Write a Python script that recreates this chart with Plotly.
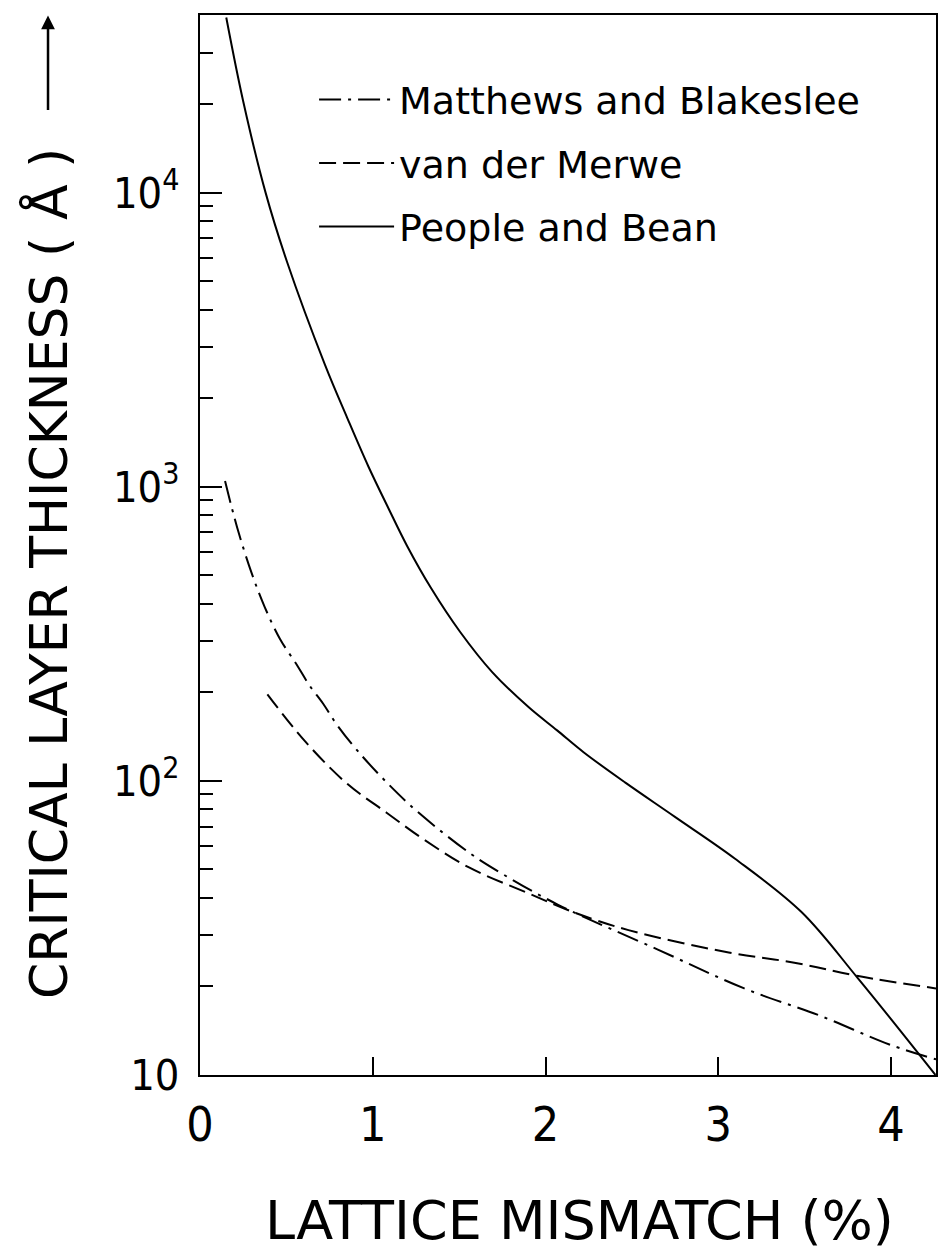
import plotly.graph_objects as go

# ---- data (lattice mismatch %, critical thickness Å) ----
mb_x = [0.145, 0.215, 0.297, 0.374, 0.463, 0.561, 0.632, 0.713, 0.79, 0.915, 1.09, 1.26, 1.56, 1.75, 2.07, 2.65, 3.15, 3.59, 3.99, 4.26]
mb_y = [1047, 728, 513, 391, 304, 248, 212, 183, 156, 126, 97.6, 78.5, 56.9, 48.3, 38, 26.7, 19.7, 15.9, 12.7, 11.3]

vdm_x = [0.39, 0.61, 0.854, 1.08, 1.3, 1.56, 1.9, 2.15, 2.48, 3.06, 3.44, 3.81, 4.26]
vdm_y = [197, 136, 97.6, 78, 63, 50.7, 41.5, 36, 31.1, 26.1, 24.1, 21.7, 19.7]

pb_x = [0.152, 0.25, 0.38, 0.504, 0.723, 0.852, 0.974, 1.092, 1.198, 1.338, 1.506, 1.69, 1.903,
        2.067, 2.222, 2.46, 2.749, 3.097, 3.48, 3.806, 4.257]
pb_y = [39500, 20500, 10000, 5820, 2606, 1718, 1176, 843, 631, 452, 321, 235, 178,
        148.6, 125, 98.9, 75.5, 54.4, 35.9, 21.4, 10]

x_tickvals = [0, 1, 2, 3, 4]
x_ticktext = ["0", "1", "2", "3", "4"]
y_tickvals = [10, 100, 1000, 10000]
y_ticktext = ["10", "10<sup>2</sup>", "10<sup>3</sup>", "10<sup>4</sup>"]
y_minor = [m * d for d in (10, 100, 1000, 10000) for m in range(2, 10)]

names = ["Matthews and Blakeslee", "van der Merwe", "People and Bean"]

TXT = "DejaVu Sans"
NUM = "Liberation Sans Narrow, DejaVu Sans Condensed, Liberation Sans, sans-serif"

fig = go.Figure()
fig.add_trace(go.Scatter(x=mb_x, y=mb_y, mode="lines", name=names[0], legendgroup="a",
                         line=dict(color="black", width=2, dash="22px,7px,3px,7px", shape="spline", smoothing=1.0)))
fig.add_trace(go.Scatter(x=vdm_x, y=vdm_y, mode="lines", name=names[1], legendgroup="b",
                         line=dict(color="black", width=2, dash="17px,7px", shape="spline", smoothing=1.0)))
fig.add_trace(go.Scatter(x=pb_x, y=pb_y, mode="lines", name=names[2], legendgroup="c",
                         line=dict(color="black", width=2, shape="spline", smoothing=1.0)))

fig.update_layout(
    width=938, height=1257,
    margin=dict(l=200, r=2, t=15, b=182, autoexpand=False),
    plot_bgcolor="white", paper_bgcolor="white",
    showlegend=True,
    legend=dict(x=0.155, y=0.9496, xanchor="left", yanchor="top", itemwidth=75,
                font=dict(family=TXT, size=38, color="black"),
                bgcolor="rgba(0,0,0,0)", tracegroupgap=11, traceorder="grouped"),
    xaxis=dict(range=[0, 4.26], showline=True, linewidth=2, linecolor="black", mirror=True,
               showgrid=False, zeroline=False, ticks="inside", ticklen=18, tickwidth=2,
               tickcolor="black", tickvals=x_tickvals, ticktext=x_ticktext, automargin=False,
               tickfont=dict(family=NUM, size=48, color="black"), ticklabelstandoff=6),
    yaxis=dict(type="log", range=[1, 4.605], showline=True, linewidth=2, linecolor="black", mirror=True,
               showgrid=False, zeroline=False, ticks="inside", ticklen=22, tickwidth=2,
               tickcolor="black", tickvals=y_tickvals, ticktext=y_ticktext, automargin=False,
               tickfont=dict(family=NUM, size=43, color="black"), ticklabelstandoff=10,
               minor=dict(ticks="inside", ticklen=13, tickwidth=1.5, tickcolor="black",
                          tickmode="array", tickvals=y_minor, showgrid=False)),
    annotations=[
        dict(text="CRITICAL LAYER THICKNESS ( Å )",
             xref="paper", yref="paper",
             x=-0.2065, y=0.4726, xanchor="center", yanchor="middle", textangle=-90,
             showarrow=False, font=dict(family=TXT, size=52, color="black")),
        dict(text="", xref="paper", yref="paper", x=-0.2065, y=0.9995,
             showarrow=True, ax=0, ay=96, arrowhead=2, arrowsize=1.1, arrowwidth=2.5,
             arrowcolor="black"),
        dict(text="LATTICE MISMATCH (%)", xref="paper", yref="paper",
             x=0.516, y=-0.1368, xanchor="center", yanchor="middle",
             showarrow=False, font=dict(family=TXT, size=54, color="black")),
    ],
)

fig.write_html("out.html", config={"displayModeBar": False},
               post_script="document.body.style.margin='0';")
